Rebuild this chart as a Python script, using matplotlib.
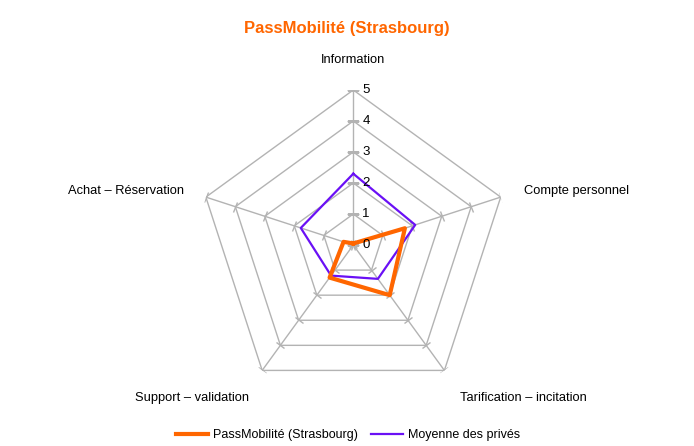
import numpy as np
import matplotlib
matplotlib.use('Agg')
import matplotlib.pyplot as plt
from matplotlib.markers import MarkerStyle
from matplotlib.transforms import Affine2D

plt.rcParams['font.family'] = ['Liberation Sans', 'DejaVu Sans']

categories = ['Information', 'Compte personnel', 'Tarification \u2013 incitation',
              'Support \u2013 validation', 'Achat \u2013 R\u00e9servation']
pass_mobilite = [0.05, 1.75, 2.0, 1.3, 0.33]
moyenne_prives = [2.3, 2.1, 1.35, 1.22, 1.78]
levels = [0, 1, 2, 3, 4, 5]

orange = '#ff6600'
purple = '#6a10f5'
grid = '#b3b3b3'

n = len(categories)
angles = np.linspace(0, 2 * np.pi, n, endpoint=False)
closed = np.append(angles, angles[0])

fig = plt.figure(figsize=(6.94, 4.46), dpi=100)
ax = fig.add_axes([0.2857, 0.1031, 0.4467, 0.6951], projection='polar')
ax.set_theta_offset(np.pi / 2)
ax.set_theta_direction(-1)
ax.set_ylim(0, 5)
ax.grid(False)
ax.spines['polar'].set_visible(False)
ax.set_xticks([])
ax.set_yticks([])

# pentagon gridlines
for lv in levels[1:]:
    ax.plot(closed, [lv] * (n + 1), color=grid, lw=1, zorder=1)
# spokes with tick marks
for a in angles:
    ax.plot([a, a], [0, 5], color=grid, lw=1, zorder=1)
    m = MarkerStyle('_', transform=Affine2D().rotate_deg(-np.degrees(a)))
    ax.plot([a] * len(levels), levels, ls='none', marker=m, ms=8,
            mec=grid, mew=1, zorder=1)

ax.plot(closed, pass_mobilite + pass_mobilite[:1], color=orange, lw=3,
        label='PassMobilit\u00e9 (Strasbourg)', zorder=3)
ax.plot(closed, moyenne_prives + moyenne_prives[:1], color=purple, lw=1.6,
        label='Moyenne des priv\u00e9s', zorder=2)

# value labels on the first axis
for lv in levels:
    ax.annotate(str(lv), xy=(0, lv), xytext=(6.5, 0), textcoords='offset points',
                ha='left', va='center', fontsize=9.5, color='black')

# category labels
label_pos = [(353, 60, 'center'), (524, 191, 'left'), (460, 398, 'left'),
             (249, 398, 'right'), (184, 191, 'right')]
W, H = 694, 446
for cat, (x, y, ha) in zip(categories, label_pos):
    fig.text(x / W, 1 - y / H, cat, ha=ha, va='center', fontsize=9.3, color='black')

fig.text(347 / W, 1 - 28 / H, 'PassMobilit\u00e9 (Strasbourg)', ha='center', va='center',
         fontsize=12, fontweight='bold', color=orange)

fig.legend(loc='center', bbox_to_anchor=(348 / W, 1 - 435 / H), ncol=2, frameon=False,
           fontsize=9, handlelength=2.6, handletextpad=0.4, columnspacing=1.0)

fig.savefig('out.png', dpi=100)
